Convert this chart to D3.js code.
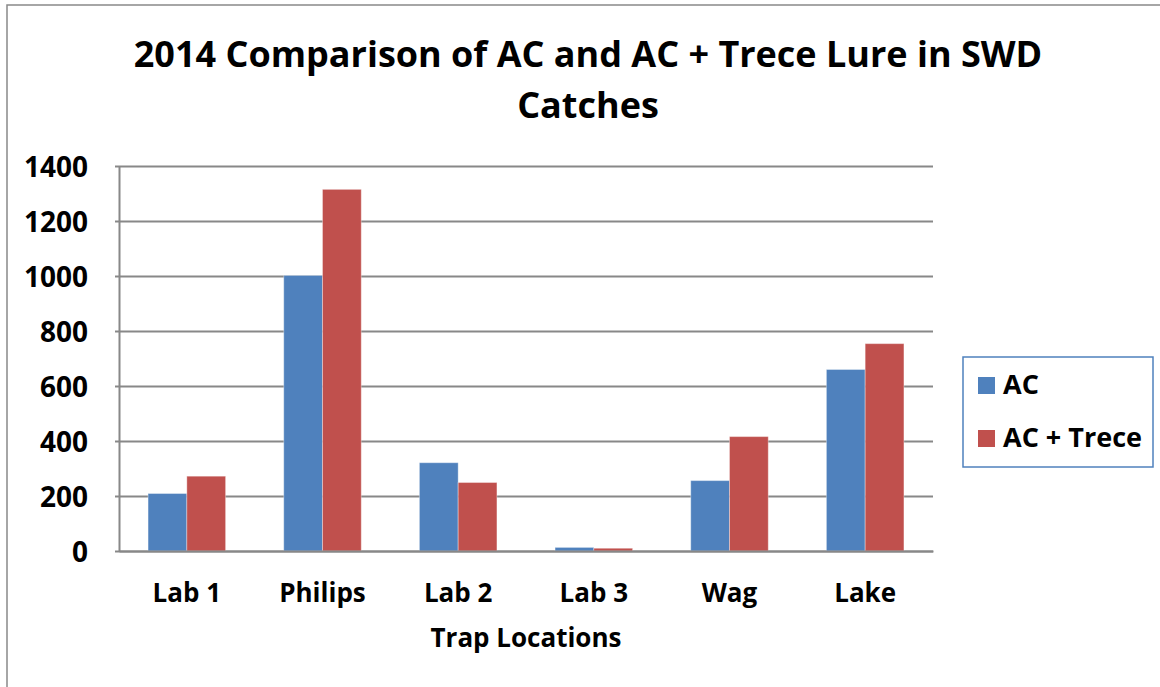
<!DOCTYPE html>
<html>
<head>
<meta charset="utf-8">
<script src="https://cdn.jsdelivr.net/npm/d3@7"></script>
<style>
    body { margin: 0; background: #fff; }
    text { font-family: 'Open Sans', Lato, sans-serif; font-weight: bold; fill: #000; }
</style>
</head>
<body>
<div class="bar-chart-container"></div>
<script>
// data
const categories = ['Lab 1', 'Philips', 'Lab 2', 'Lab 3', 'Wag', 'Lake'];
const seriesNames = ['AC', 'AC + Trece'];
const acValues = [209, 1002, 321, 13, 256, 660];
const acTreceValues = [272, 1315, 249, 10, 416, 754];
const yTicks = [0, 200, 400, 600, 800, 1000, 1200, 1400];
const titleLines = ['2014 Comparison of AC and AC + Trece Lure in SWD', 'Catches'];
const xTitle = 'Trap Locations';
const colors = ['#4f81bd', '#c0504d'];

// rows for the grouped bars
const rows = categories.map((c, i) => ({
    category: c,
    values: [acValues[i], acTreceValues[i]]
}));

function setupCanvas(rows) {
    const svg_width = 1160;
    const svg_height = 687;
    const chart_margin = { top: 166, right: 227, bottom: 136, left: 119 };
    const chart_width = svg_width - (chart_margin.left + chart_margin.right);
    const chart_height = svg_height - (chart_margin.top + chart_margin.bottom);

    const svg = d3.select('.bar-chart-container').append('svg')
        .attr('width', svg_width).attr('height', svg_height);

    // outer frame of the chart
    svg.append('rect')
        .attr('x', 7).attr('y', 5)
        .attr('width', svg_width).attr('height', svg_height)
        .style('fill', 'none').style('stroke', '#898989').style('stroke-width', 1.5);

    const this_svg = svg.append('g')
        .attr('transform', `translate(${chart_margin.left},${chart_margin.top})`);

    // scales - gap width 150% like excel
    const xScale = d3.scaleBand().domain(categories).range([0, chart_width])
        .paddingInner(1.5 / 3.5).paddingOuter(0.75 / 3.5);
    const xSub = d3.scaleBand().domain(seriesNames).range([0, xScale.bandwidth()]);
    const yScale = d3.scaleLinear().domain([0, 1400]).range([chart_height, 0]);

    // gridlines
    this_svg.append('g').attr('class', 'grid')
        .call(d3.axisLeft(yScale).tickValues(yTicks).tickSize(-chart_width).tickFormat(''))
        .call(g => g.select('.domain').remove())
        .selectAll('line').style('stroke', '#888').style('stroke-width', 2);

    // bars
    const groups = this_svg.selectAll('.group')
        .data(rows).enter().append('g')
        .attr('class', 'group')
        .attr('transform', d => `translate(${xScale(d.category)},0)`);
    groups.selectAll('rect')
        .data(d => d.values.map((v, i) => ({ key: seriesNames[i], value: v, i: i })))
        .enter().append('rect')
        .attr('x', d => xSub(d.key))
        .attr('y', d => yScale(d.value))
        .attr('width', xSub.bandwidth())
        .attr('height', d => chart_height - yScale(d.value))
        .style('fill', d => colors[d.i])
        .style('stroke', 'rgba(255,255,255,0.35)')
        .style('stroke-width', 1);

    // y axis
    const yAxisDraw = this_svg.append('g').attr('class', 'y axis')
        .call(d3.axisLeft(yScale).tickValues(yTicks).tickFormat(d3.format('d'))
            .tickSizeInner(4).tickSizeOuter(0).tickPadding(27));
    yAxisDraw.select('.domain').style('stroke', '#888').style('stroke-width', 2);
    yAxisDraw.selectAll('line').style('stroke', '#888').style('stroke-width', 2);
    yAxisDraw.selectAll('text').style('font-size', '28px').attr('dy', '0.36em');

    // x axis
    const xAxisDraw = this_svg.append('g').attr('class', 'x axis')
        .attr('transform', `translate(0,${chart_height})`)
        .call(d3.axisBottom(xScale).tickSize(0).tickPadding(0));
    xAxisDraw.select('.domain').style('stroke', '#888').style('stroke-width', 2);
    xAxisDraw.selectAll('text').style('font-size', '26px').attr('y', 51).attr('dy', 0);

    // x axis title
    this_svg.append('text')
        .attr('x', chart_width / 2).attr('y', chart_height + 96)
        .style('text-anchor', 'middle').style('font-size', '26px')
        .text(xTitle);

    // header
    const header = svg.append('text').attr('class', 'bar-header')
        .style('text-anchor', 'middle').style('font-size', '36px');
    titleLines.forEach((t, i) => {
        header.append('tspan').attr('x', 588).attr('y', 67 + i * 51).text(t);
    });

    // legend
    const legend = svg.append('g').attr('class', 'legend')
        .attr('transform', 'translate(963,357)');
    legend.append('rect')
        .attr('width', 190).attr('height', 110)
        .style('fill', '#fff').style('stroke', '#4f81bd').style('stroke-width', 1.5);
    const items = legend.selectAll('.item')
        .data(seriesNames).enter().append('g')
        .attr('class', 'item')
        .attr('transform', (d, i) => `translate(15,${37 + i * 53})`);
    items.append('rect')
        .attr('y', -17).attr('width', 17).attr('height', 17)
        .style('fill', (d, i) => colors[i]);
    items.append('text')
        .attr('x', 25).attr('y', 0)
        .style('font-size', '27px')
        .text(d => d);
}

setupCanvas(rows);
</script>
</body>
</html>
